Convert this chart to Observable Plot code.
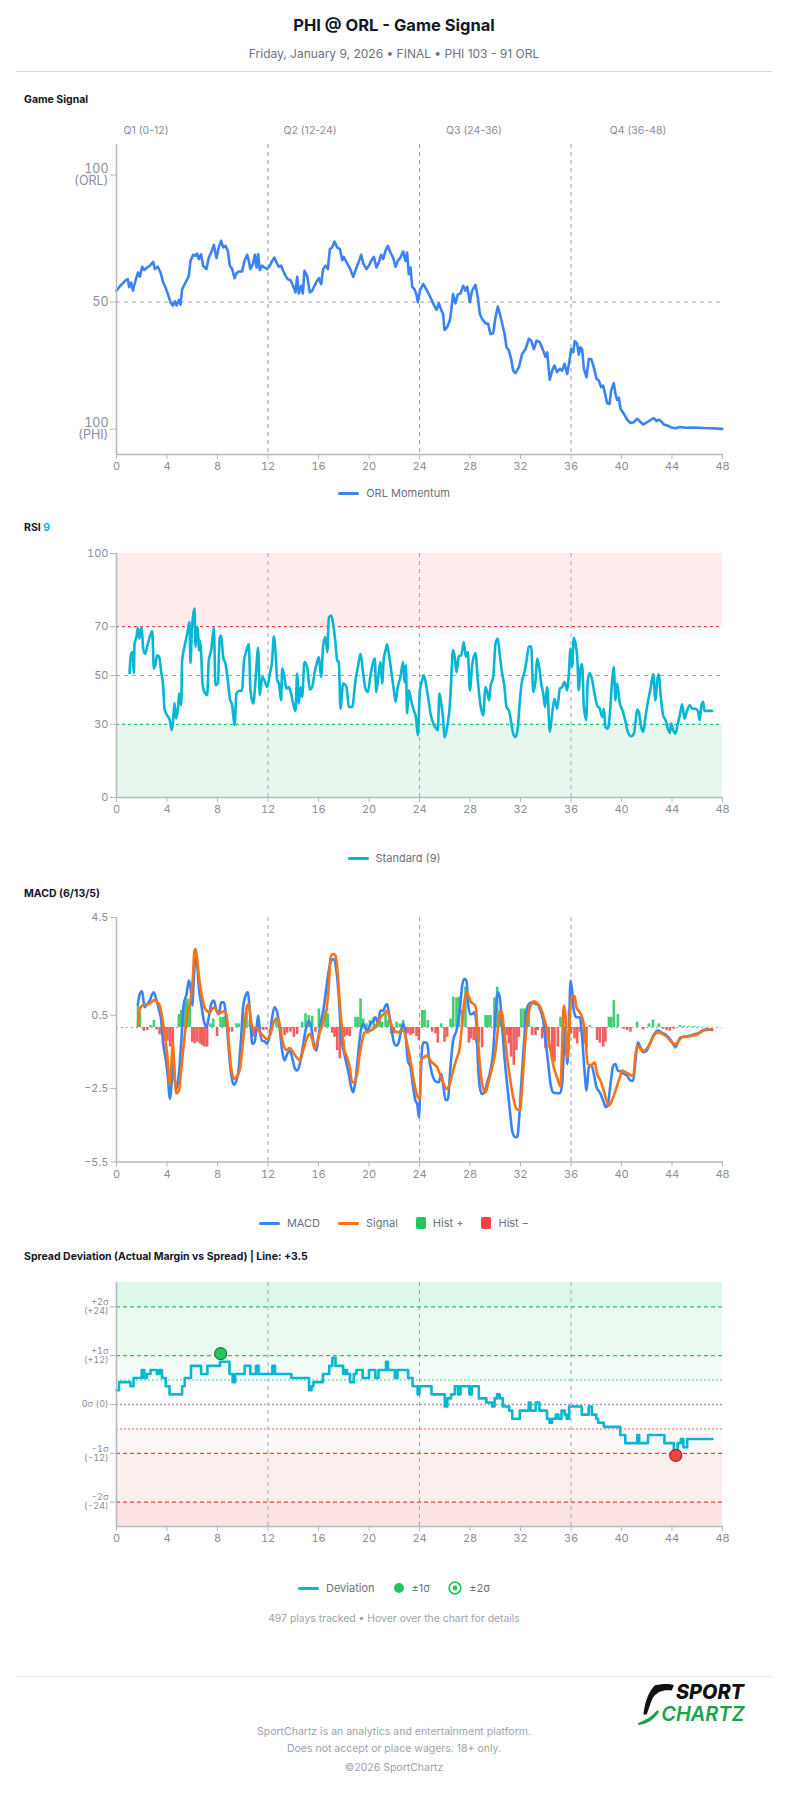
<!DOCTYPE html>
<html>
<head>
<meta charset="utf-8">
<script src="https://cdn.jsdelivr.net/npm/d3@7"></script>
<script src="https://cdn.jsdelivr.net/npm/@observablehq/plot@0.6"></script>
<style>
  html, body { margin: 0; padding: 0; background: #fff; }
  #page { position: relative; width: 788px; height: 1808px; overflow: hidden;
          font-family: Inter, "Noto Sans", "DejaVu Sans", sans-serif; }
  .t { position: absolute; white-space: nowrap; }
  .legend { position: absolute; left: 0; width: 788px; display: flex; justify-content: center;
            align-items: center; gap: 18px; font-size: 11px; color: #6b7280; }
  .legend .item { display: flex; align-items: center; gap: 7px; }
  .sw-line { width: 21px; height: 3px; border-radius: 2px; }
  .sw-box { width: 10px; height: 12px; border-radius: 2px; }
  .rule { position: absolute; height: 1px; }
</style>
</head>
<body>
<div id="page"></div>
<script>
// ---------- data ----------
const minuteTicks = [0, 4, 8, 12, 16, 20, 24, 28, 32, 36, 40, 44, 48];
const quarterBreaks = [12, 24, 36];
const quarterLabels = ["Q1 (0-12)", "Q2 (12-24)", "Q3 (24-36)", "Q4 (36-48)"];

// ORL momentum, [game minute, value] (100 = ORL, 0 = PHI)
const orlMomentum = [[0,54.5],[0.3,56.4],[0.7,58.4],[0.9,59],[1.0,55.8],[1.16,57.7],[1.3,54.5],[1.5,58.4],[1.7,61.6],[1.85,60],[2.03,63.9],[2.2,62.6],[2.43,63.6],[2.64,64.3],[2.9,65.8],[3.04,63],[3.27,63.9],[3.49,61.6],[3.7,57.7],[3.88,55.8],[4.07,53.1],[4.28,49.9],[4.46,48.6],[4.62,50.3],[4.75,48.7],[4.94,50.8],[5.07,49],[5.2,55.1],[5.47,57.7],[5.73,60.3],[5.86,66.2],[6.07,68.6],[6.26,68.2],[6.39,69.1],[6.52,66.9],[6.7,68.8],[6.86,64.3],[7.13,63],[7.31,67.5],[7.5,69.5],[7.71,72.5],[7.92,67.3],[8.1,71.5],[8.29,74.1],[8.45,71.5],[8.63,72.1],[8.82,70.2],[8.98,64.3],[9.16,63],[9.35,59.4],[9.5,61.3],[9.7,62],[9.95,62],[10.14,66.2],[10.35,68.6],[10.48,66.2],[10.6,63],[10.8,64.9],[10.96,68.6],[11.09,63.6],[11.22,68.8],[11.35,62.6],[11.54,64.3],[11.72,63.6],[11.93,63],[12.15,64.3],[12.33,66.2],[12.51,67.5],[12.67,65.6],[12.86,63.9],[13.04,64.3],[13.2,62.3],[13.39,60.3],[13.57,59],[13.78,58.6],[13.99,56.4],[14.18,53.8],[14.31,59.9],[14.44,53.4],[14.63,56.4],[14.76,53.4],[14.89,62.3],[15.1,60.3],[15.31,53.8],[15.5,54.5],[15.68,56.4],[15.89,58.4],[16.03,59.4],[16.21,57.1],[16.37,63],[16.55,64.3],[16.74,63],[16.9,70.8],[17.08,71.5],[17.27,73.8],[17.48,71.5],[17.7,70.8],[17.88,66.5],[18.0,67.8],[18.22,65.6],[18.48,63.4],[18.75,59.9],[19.01,63.6],[19.2,66],[19.38,68.6],[19.54,65.2],[19.8,63],[19.99,64.3],[20.17,66.2],[20.38,67.8],[20.59,63.6],[20.78,65.6],[20.96,68.6],[21.12,66.9],[21.31,70.2],[21.49,72.1],[21.7,69.5],[21.91,67.5],[22.1,63.9],[22.28,66.2],[22.49,67.5],[22.7,69.9],[22.89,66.2],[23.02,69.5],[23.15,61],[23.29,63.6],[23.42,56],[23.6,55.1],[23.76,52.9],[23.87,49.9],[24.03,54.5],[24.29,57.1],[24.6,54.5],[24.87,51.8],[25.13,49],[25.35,46.9],[25.53,49.5],[25.72,46.9],[25.87,45.3],[25.98,39],[26.19,40.1],[26.4,42.7],[26.51,46.6],[26.66,53.1],[26.85,49.5],[27.03,52.9],[27.25,53.4],[27.46,56.4],[27.64,54.5],[27.78,56],[27.99,49.9],[28.17,54.5],[28.43,56.8],[28.62,51.8],[28.78,45.3],[28.96,43.3],[29.23,41.6],[29.44,41.4],[29.62,37.4],[29.84,37.7],[30.02,44],[30.21,48.2],[30.37,45.3],[30.55,41.4],[30.73,37.7],[30.89,32.2],[31.08,30.9],[31.26,27.6],[31.42,23],[31.6,22],[31.87,24.3],[32.13,29.6],[32.4,31.5],[32.66,35.5],[32.85,34.8],[33.06,31.5],[33.27,34.8],[33.53,34.2],[33.8,30.9],[33.98,28.5],[34.11,30.2],[34.32,19.4],[34.51,23],[34.69,25],[34.9,22.4],[35.12,23.7],[35.3,23],[35.49,25.7],[35.7,21.7],[35.88,27],[36.01,31.5],[36.17,30.2],[36.3,34.6],[36.49,33.5],[36.62,29.3],[36.75,32.2],[36.88,31.5],[37.02,23.7],[37.23,20.4],[37.41,27.6],[37.6,27.6],[37.81,24.3],[38.02,19.8],[38.2,19.1],[38.39,16.5],[38.55,17.1],[38.73,13.2],[38.86,10.2],[39.05,9.9],[39.18,15.2],[39.39,18.1],[39.52,13.9],[39.65,11.5],[39.79,12.3],[39.92,8],[40.19,6],[40.45,3.7],[40.71,2.4],[40.98,2.7],[41.24,4.1],[41.45,3.1],[41.72,1.8],[42.03,2.7],[42.35,3.7],[42.56,4.3],[42.77,3.1],[42.96,3.7],[43.14,3.1],[43.35,1.8],[43.67,1.3],[44.01,0.5],[44.27,0.3],[44.67,0.8],[45.07,0.5],[45.73,0.6],[46.52,0.4],[47.31,0.3],[47.97,0.1]];

// RSI (9), [game minute, value]
const rsi9 = [[1.03,51],[1.16,58.9],[1.27,59.6],[1.37,51],[1.43,63],[1.58,65.8],[1.69,69.6],[1.8,65.1],[1.9,68.5],[2.0,69.6],[2.11,61],[2.27,58.9],[2.43,61.9],[2.64,65.8],[2.83,68.2],[2.96,52.8],[3.09,54.6],[3.22,58.3],[3.38,57.6],[3.54,51.4],[3.7,45.3],[3.8,36.4],[4.01,33.7],[4.22,31.7],[4.38,27.6],[4.49,31.7],[4.59,38.7],[4.73,32.3],[4.88,37.1],[4.96,42.6],[5.12,37.8],[5.2,56.2],[5.39,61.9],[5.6,67.1],[5.78,71.9],[5.86,55.1],[5.97,68.5],[6.07,74.6],[6.18,77.4],[6.26,61.7],[6.34,69.8],[6.44,69.8],[6.52,60.3],[6.6,64.4],[6.71,58.9],[6.81,46.7],[6.97,43.2],[7.18,41.9],[7.31,56.2],[7.5,60.3],[7.71,69.6],[7.84,46],[8.03,46.7],[8.18,65.8],[8.29,66.4],[8.45,57.6],[8.63,54.8],[8.82,48],[8.98,40.5],[9.16,37.8],[9.35,29.6],[9.5,42.6],[9.69,43.7],[9.95,43.9],[10.09,55.5],[10.3,60.3],[10.48,62.8],[10.61,43.9],[10.83,38.5],[11.01,48],[11.22,61.4],[11.35,41.9],[11.54,49.4],[11.72,48],[11.93,45.3],[12.15,50.8],[12.33,56.2],[12.46,66],[12.59,60.3],[12.73,48],[12.86,46.7],[13.04,39.8],[13.12,52.8],[13.25,50.8],[13.46,44.6],[13.65,45.3],[13.83,42.6],[13.99,38.5],[14.18,35.5],[14.31,50.8],[14.44,38.5],[14.57,45.3],[14.7,41.2],[14.89,55.5],[15.1,53.5],[15.31,44.2],[15.5,45.3],[15.68,50.8],[15.89,55.5],[16.03,57.6],[16.21,49.4],[16.37,62.3],[16.55,65.8],[16.69,59.6],[16.82,73.7],[17.01,74.6],[17.16,71.2],[17.35,63],[17.48,56.2],[17.61,55.5],[17.74,36.4],[17.95,46.7],[18.22,45.3],[18.4,37.1],[18.67,37.1],[18.93,48],[19.12,53.5],[19.33,58.9],[19.54,50.8],[19.72,44.6],[19.91,43.2],[20.12,50.1],[20.33,55.5],[20.46,56.9],[20.57,43.2],[20.78,51.4],[20.91,55.5],[21.04,46.7],[21.17,56.9],[21.31,60.3],[21.43,62.8],[21.57,58.9],[21.76,52.1],[21.97,43.9],[22.1,39.2],[22.28,45.3],[22.49,49.4],[22.7,55.5],[22.81,47.3],[22.92,54.2],[23.02,34.4],[23.15,43.9],[23.34,39.8],[23.55,35.7],[23.71,33],[23.87,25.5],[24.03,43.9],[24.21,48],[24.34,50.1],[24.55,45.3],[24.74,39.2],[24.87,34.4],[25.0,31.7],[25.27,28.6],[25.45,27.6],[25.58,42.6],[25.72,38.5],[25.87,32.3],[25.98,24.6],[26.19,28.9],[26.4,37.8],[26.51,48],[26.64,60.3],[26.77,58.3],[26.93,51.4],[27.11,57.8],[27.3,58.3],[27.51,63.7],[27.67,57.6],[27.83,59.6],[27.99,43.9],[28.17,54.2],[28.43,59.2],[28.62,48],[28.83,37.8],[29.04,33.7],[29.23,45.3],[29.36,43.2],[29.52,39.8],[29.62,45.3],[29.84,49.4],[30.02,63],[30.2,65.1],[30.36,58.3],[30.55,50.8],[30.73,45.3],[30.89,37.1],[31.08,35.7],[31.26,31],[31.42,26.2],[31.6,24.8],[31.79,28.9],[31.95,39.8],[32.13,48],[32.32,51.4],[32.48,56.2],[32.66,61.9],[32.85,61.9],[33.01,43.2],[33.19,48],[33.32,56.9],[33.48,53.5],[33.64,46.7],[33.8,42.6],[33.95,37.1],[34.11,45.3],[34.32,26.9],[34.51,34.4],[34.69,40.5],[34.9,36.4],[35.12,44.6],[35.3,45.3],[35.49,47.3],[35.7,43.9],[35.83,50.8],[35.96,61],[36.09,53.5],[36.22,65.5],[36.36,63],[36.49,57.6],[36.62,43.9],[36.75,52.8],[36.88,54.6],[37.02,37.1],[37.2,31.7],[37.33,48],[37.49,51],[37.68,48],[37.86,42.6],[38.07,37.8],[38.28,36.4],[38.47,33],[38.6,36.4],[38.73,28.9],[38.92,28.2],[39.08,34.4],[39.26,48],[39.39,53.5],[39.52,39.8],[39.65,46.7],[39.87,38.5],[40.08,35.7],[40.32,31],[40.5,26.9],[40.77,25.1],[40.98,26.2],[41.11,31],[41.24,36],[41.37,35.1],[41.56,28.9],[41.72,26.9],[41.9,33],[42.09,39.2],[42.3,44.6],[42.51,50.5],[42.69,39.8],[42.83,48],[42.96,50.5],[43.09,42.6],[43.3,33.7],[43.49,31.7],[43.67,28.2],[43.83,26.5],[43.93,30.3],[44.09,27.6],[44.27,26.2],[44.46,30.3],[44.62,33.7],[44.8,38.2],[44.99,32.3],[45.2,35.7],[45.41,37.8],[45.6,36.4],[45.86,36.4],[46.05,35.5],[46.2,31.7],[46.33,37.8],[46.47,39.2],[46.57,35.5],[46.84,35.5],[47.18,35.5]];
const rsiBands = [30, 50, 70];

// MACD (6/13/5), [game minute, value]
const macdLine = [[1.69,0.94],[1.85,1.37],[2.03,1.48],[2.22,0.83],[2.43,0.96],[2.64,1.1],[2.83,1.37],[2.96,1.44],[3.17,1.1],[3.35,0.76],[3.54,0.28],[3.7,-0.67],[3.88,-1.22],[4.07,-2.04],[4.22,-2.92],[4.36,-2.31],[4.49,-1.22],[4.62,-2.17],[4.75,-2.51],[4.94,-1.9],[5.12,-0.67],[5.33,0.96],[5.55,1.37],[5.73,1.92],[5.86,1.65],[6.0,0.9],[6.13,2.05],[6.26,2.87],[6.39,2.6],[6.52,1.65],[6.71,0.96],[6.92,0.28],[7.13,0.01],[7.31,0.42],[7.5,0.96],[7.71,1.1],[7.92,0.69],[8.1,0.55],[8.29,1.03],[8.5,1.03],[8.71,0.28],[8.9,-0.95],[9.08,-1.9],[9.29,-2.34],[9.5,-2.17],[9.69,-1.63],[9.87,-0.4],[10.03,0.83],[10.22,1.3],[10.4,1.44],[10.56,0.69],[10.75,-0.67],[10.93,-0.6],[11.09,-0.05],[11.22,0.49],[11.35,-0.12],[11.54,-0.54],[11.72,-0.56],[11.93,-0.67],[12.15,-0.26],[12.33,0.42],[12.51,0.83],[12.73,0.62],[12.94,-0.12],[13.12,-0.95],[13.31,-1.35],[13.52,-1.08],[13.73,-0.95],[13.91,-1.22],[14.1,-1.63],[14.31,-1.76],[14.52,-1.49],[14.71,-0.95],[14.97,-0.12],[15.23,0.28],[15.42,0.01],[15.63,-0.67],[15.84,-0.95],[16.03,-0.26],[16.21,0.28],[16.42,0.83],[16.63,1.65],[16.82,2.33],[17.0,2.74],[17.21,2.8],[17.42,2.33],[17.61,1.24],[17.8,-0.4],[18.0,-0.95],[18.22,-1.49],[18.4,-1.9],[18.59,-2.45],[18.75,-2.65],[18.93,-2.17],[19.12,-1.22],[19.33,-0.2],[19.54,0.15],[19.72,-0.05],[19.91,-0.1],[20.12,0.15],[20.33,0.28],[20.51,0.42],[20.7,0.21],[20.91,0.69],[21.12,0.69],[21.31,0.9],[21.43,0.96],[21.59,0.55],[21.76,0.01],[21.97,-0.6],[22.18,-0.74],[22.36,-0.6],[22.54,-0.12],[22.7,0.15],[22.89,-0.26],[23.08,-1.35],[23.29,-1.63],[23.5,-2.45],[23.68,-2.99],[23.82,-3.13],[23.95,-3.67],[24.08,-2.31],[24.21,-0.81],[24.34,-0.6],[24.61,-0.65],[24.74,-1.22],[25.0,-1.9],[25.27,-2.2],[25.53,-2.24],[25.72,-1.9],[25.87,-2.31],[26.06,-2.96],[26.24,-2.96],[26.45,-1.63],[26.66,-0.54],[26.93,-0.12],[27.19,0.69],[27.38,1.71],[27.56,1.99],[27.72,1.92],[27.83,1.1],[27.99,0.55],[28.17,0.55],[28.35,0.62],[28.51,0.15],[28.62,-1.35],[28.78,-2.45],[28.96,-2.72],[29.15,-2.65],[29.36,-2.24],[29.62,-1.76],[29.84,-0.95],[30.02,0.55],[30.2,1.44],[30.36,1.24],[30.55,0.01],[30.73,-1.22],[30.94,-2.31],[31.16,-3.4],[31.34,-4.22],[31.53,-4.46],[31.74,-4.49],[31.9,-3.67],[32.06,-2.31],[32.27,-0.67],[32.48,0.69],[32.66,0.96],[32.93,1.03],[33.19,0.96],[33.37,0.94],[33.58,0.69],[33.8,0.28],[33.98,-0.54],[34.17,-1.35],[34.38,-2.31],[34.59,-2.65],[34.85,-2.69],[35.12,-2.69],[35.3,-2.31],[35.43,-0.95],[35.57,0.01],[35.7,-1.49],[35.83,-0.4],[35.96,1.92],[36.09,1.51],[36.22,0.69],[36.43,0.42],[36.7,0.42],[36.88,-0.4],[37.07,-1.76],[37.23,-2.58],[37.41,-1.63],[37.6,-1.52],[37.81,-1.9],[38.02,-2.45],[38.28,-2.65],[38.55,-2.99],[38.76,-3.26],[38.92,-3.13],[39.13,-2.31],[39.34,-1.56],[39.52,-1.49],[39.71,-1.76],[39.92,-1.79],[40.19,-1.9],[40.45,-1.97],[40.71,-2.17],[40.93,-2.17],[41.11,-1.35],[41.29,-0.6],[41.5,-0.81],[41.72,-1.01],[41.98,-0.95],[42.24,-0.67],[42.56,-0.29],[42.88,-0.12],[43.14,-0.2],[43.49,-0.29],[43.83,-0.47],[44.09,-0.67],[44.27,-0.81],[44.46,-0.6],[44.67,-0.4],[45.07,-0.37],[45.46,-0.33],[45.86,-0.26],[46.26,-0.2],[46.57,-0.08],[46.92,-0.07],[47.18,-0.1]];
const signalLine = [[1.69,0.08],[1.85,0.76],[2.03,0.9],[2.3,0.94],[2.56,0.96],[2.83,1.07],[3.01,1.13],[3.22,1.03],[3.43,0.9],[3.62,0.42],[3.8,-0.26],[4.01,-1.08],[4.2,-2.31],[4.33,-1.63],[4.46,-0.67],[4.59,-1.76],[4.73,-2.69],[4.94,-2.58],[5.12,-1.76],[5.28,-0.95],[5.47,0.01],[5.65,0.69],[5.86,1.1],[6.05,2.05],[6.18,3.17],[6.28,3.21],[6.44,2.53],[6.6,1.78],[6.79,1.24],[6.97,0.83],[7.18,0.66],[7.39,0.62],[7.58,0.76],[7.76,0.83],[7.92,0.69],[8.1,0.55],[8.29,0.62],[8.5,0.66],[8.71,0.55],[8.9,-0.67],[9.08,-1.63],[9.29,-2.1],[9.5,-2.04],[9.77,-1.7],[9.95,-0.95],[10.14,0.01],[10.35,0.9],[10.48,0.96],[10.61,0.42],[10.83,-0.05],[11.09,0.01],[11.35,-0.2],[11.62,-0.33],[11.88,-0.47],[12.15,-0.33],[12.41,0.15],[12.67,0.39],[12.86,0.28],[13.04,-0.26],[13.25,-0.74],[13.46,-0.92],[13.73,-0.84],[13.99,-1.01],[14.26,-1.22],[14.52,-1.35],[14.78,-0.95],[15.05,-0.47],[15.31,-0.26],[15.5,-0.47],[15.68,-0.88],[15.89,-0.6],[16.11,-0.2],[16.37,0.28],[16.63,0.69],[16.82,1.78],[16.95,2.87],[17.16,3.01],[17.35,2.94],[17.53,2.19],[17.69,0.96],[17.88,-0.12],[18.06,-0.95],[18.27,-1.22],[18.48,-1.63],[18.67,-2.24],[18.85,-2.24],[19.06,-1.9],[19.27,-1.08],[19.46,-0.54],[19.64,-0.2],[19.85,-0.2],[20.12,-0.12],[20.38,-0.05],[20.65,0.15],[20.91,0.42],[21.17,0.55],[21.43,0.69],[21.65,0.35],[21.83,0.01],[22.02,-0.12],[22.28,-0.2],[22.54,-0.12],[22.75,-0.15],[23.02,-0.67],[23.29,-1.35],[23.55,-2.17],[23.82,-2.79],[24.03,-2.92],[24.13,-1.35],[24.34,-1.22],[24.61,-1.15],[24.87,-1.35],[25.13,-1.49],[25.4,-1.63],[25.61,-1.9],[25.87,-2.24],[26.14,-2.51],[26.4,-2.31],[26.66,-1.76],[26.93,-1.29],[27.19,-0.81],[27.38,0.15],[27.56,1.1],[27.72,1.44],[27.91,1.26],[28.09,1.03],[28.3,0.96],[28.46,0.83],[28.62,-0.4],[28.78,-1.49],[28.96,-2.31],[29.23,-2.65],[29.49,-2.17],[29.76,-1.63],[30.02,-0.95],[30.2,-0.12],[30.42,0.69],[30.55,0.55],[30.73,-0.26],[30.94,-1.22],[31.16,-2.04],[31.42,-2.85],[31.68,-3.33],[31.95,-3.4],[32.13,-2.45],[32.32,-0.95],[32.53,0.28],[32.8,0.9],[33.06,1.07],[33.32,0.99],[33.58,0.83],[33.85,0.42],[34.11,-0.12],[34.38,-0.95],[34.64,-1.63],[34.9,-2.04],[35.17,-2.42],[35.3,-0.67],[35.43,0.9],[35.57,0.42],[35.7,-1.22],[35.83,-0.54],[35.96,0.96],[36.09,1.3],[36.28,1.3],[36.43,0.83],[36.7,0.62],[36.96,0.28],[37.15,-0.54],[37.33,-1.49],[37.6,-1.56],[37.86,-1.42],[38.07,-1.9],[38.33,-2.17],[38.6,-2.58],[38.81,-2.99],[38.99,-3.2],[39.18,-3.06],[39.39,-2.79],[39.65,-2.38],[39.87,-2.04],[40.05,-1.76],[40.32,-1.83],[40.58,-1.9],[40.93,-2.0],[41.11,-1.08],[41.29,-0.74],[41.5,-0.88],[41.77,-0.95],[42.03,-0.84],[42.3,-0.6],[42.56,-0.33],[42.88,-0.2],[43.22,-0.26],[43.57,-0.37],[43.88,-0.54],[44.14,-0.67],[44.36,-0.67],[44.54,-0.54],[44.8,-0.4],[45.2,-0.37],[45.6,-0.33],[45.99,-0.29],[46.39,-0.12],[46.79,-0.1],[47.18,-0.07]];
const macdHist = [[1.7,0.9],[1.85,0.6],[2.16,-0.15],[2.43,-0.12],[2.69,0.08],[2.96,0.29],[3.17,-0.1],[3.41,-0.29],[3.62,-0.33],[3.83,-0.4],[4.04,-0.56],[4.25,-0.8],[4.46,-0.94],[4.94,0.53],[5.12,0.7],[5.28,0.83],[5.47,1.04],[5.62,1.17],[5.81,0.9],[6.0,-0.6],[6.18,-0.67],[6.39,-0.6],[6.6,-0.67],[6.79,-0.74],[6.97,-0.8],[7.18,-0.8],[7.45,0.15],[7.66,0.35],[7.97,-0.37],[8.24,0.42],[8.45,0.42],[8.63,0.45],[8.9,-0.19],[9.16,-0.19],[9.5,0.15],[9.69,0.15],[10.03,0.59],[10.3,0.63],[10.56,0.29],[10.83,-0.4],[11.01,-0.26],[11.27,0.29],[11.62,-0.12],[11.88,-0.1],[12.67,0.35],[13.04,-0.26],[13.31,-0.33],[13.52,-0.23],[13.78,-0.19],[14.05,-0.4],[14.31,-0.29],[14.71,0.22],[14.97,0.56],[15.23,0.49],[15.5,0.45],[15.76,-0.19],[16.03,0.76],[16.29,0.49],[16.55,0.7],[16.74,0.56],[17.08,-0.23],[17.27,-0.4],[17.48,-0.94],[17.69,-1.28],[17.87,-0.4],[18.06,-0.4],[18.27,-0.33],[18.48,-0.37],[18.93,0.42],[19.12,0.42],[19.33,1.17],[19.54,0.35],[19.8,0.15],[20.07,0.29],[20.38,0.42],[20.65,0.22],[20.86,0.29],[21.04,0.22],[21.31,0.63],[21.49,0.29],[21.76,-0.26],[21.97,-0.26],[22.18,0.22],[22.44,0.15],[22.71,0.29],[22.89,-0.23],[23.08,-0.26],[23.29,-0.33],[23.5,-0.26],[23.76,-0.37],[23.95,-0.53],[24.21,0.7],[24.4,0.7],[24.66,0.29],[25.0,-0.19],[25.27,-0.26],[25.45,-0.64],[25.72,0.15],[25.98,-0.6],[26.19,-0.4],[26.46,0.35],[26.67,1.24],[26.93,1.21],[27.12,1.24],[27.38,0.7],[27.64,1.65],[27.91,-0.64],[28.09,-0.46],[28.3,-0.53],[28.51,-0.67],[28.7,-0.64],[28.96,-0.83],[29.23,0.49],[29.41,0.49],[29.62,0.49],[29.94,1.21],[30.15,1.65],[30.36,0.7],[30.63,-0.12],[30.89,-0.33],[31.08,-0.67],[31.26,-1.21],[31.47,-1.55],[31.68,-0.94],[31.87,-0.4],[32.05,0.76],[32.26,0.76],[32.48,0.76],[32.66,0.83],[32.92,-0.33],[33.19,-0.33],[33.37,-0.12],[33.72,-0.46],[33.98,-0.87],[34.24,-0.83],[34.51,-1.21],[34.69,-1.42],[34.96,-0.8],[35.17,0.42],[35.38,0.35],[35.56,-1.08],[35.83,0.7],[36.01,-0.26],[36.28,-0.46],[36.49,-0.67],[36.7,-0.19],[37.02,-0.67],[37.23,-0.83],[37.49,0.08],[38.07,-0.53],[38.28,-0.64],[38.55,-0.8],[38.73,-0.6],[39.0,0.42],[39.18,0.42],[39.39,1.1],[39.71,0.53],[40.18,-0.07],[40.45,-0.12],[40.71,-0.19],[41.24,0.22],[41.72,-0.1],[42.17,0.15],[42.49,0.31],[42.96,0.15],[43.3,-0.07],[43.57,-0.12],[43.83,-0.15],[44.14,-0.07],[44.62,0.08],[44.93,0.05],[45.33,0.04],[45.73,0.04],[46.13,0.03],[46.52,0.02],[46.92,0.02]];
const macdTicks = [4.5, 0.5, -2.5, -5.5];

// Spread deviation (actual margin vs +3.5 line), steps of [game minute, points]
const deviation = [[0,3.5],[0.2,5.5],[1.1,4.5],[1.35,6.5],[2.0,8.5],[2.2,6.5],[2.4,7.5],[2.7,8.5],[3.2,7.5],[3.4,8.5],[3.6,6.5],[3.9,4.5],[4.2,2.5],[5.2,4.5],[5.4,6.5],[5.9,9.5],[6.7,7.5],[7.2,9.5],[8.2,10.5],[8.95,7.5],[9.2,5.5],[9.4,7.5],[10.15,9.5],[10.6,7.5],[11.05,9.5],[11.25,7.5],[12.35,9.5],[12.55,7.5],[13.85,6.5],[15.25,3.5],[15.45,4.5],[15.6,5.5],[16.35,7.5],[16.85,9.5],[17.1,11.5],[17.35,9.5],[17.95,7.5],[18.1,8.5],[18.25,7.5],[18.5,5.5],[18.8,7.5],[19.0,8.5],[19.5,6.5],[20.0,8.5],[20.5,6.5],[20.75,8.5],[21.35,10.5],[21.5,8.5],[22.05,6.5],[22.25,8.5],[23.1,6.5],[23.45,4.5],[23.85,2.5],[24.0,4.5],[24.95,2.5],[26.0,-0.5],[26.2,1.5],[26.5,2.5],[26.8,4.5],[27.05,2.5],[27.25,4.5],[27.95,2.5],[28.15,4.5],[28.7,1.5],[29.3,0.5],[29.75,-0.5],[29.95,1.5],[30.15,2.5],[30.35,1.5],[30.6,-0.5],[31.1,-1.5],[31.35,-3.5],[31.95,-1.5],[32.65,0.5],[32.8,-1.5],[33.2,0.5],[33.5,-1.5],[34.1,-3.5],[34.3,-4.5],[34.5,-3.5],[34.8,-2.5],[35.0,-3.5],[35.25,-1.5],[35.5,-2.5],[35.65,-3.5],[35.85,-0.5],[36.85,-2.5],[37.4,-0.5],[37.65,-2.5],[38.0,-3.5],[38.15,-4.5],[38.6,-5.5],[39.9,-7.5],[40.3,-9.5],[41.25,-7.5],[41.4,-9.5],[42.1,-7.5],[43.4,-9.5],[44.15,-11.5],[44.45,-9.5],[44.7,-8.5],[44.9,-10.5],[45.2,-8.5],[47.2,-8.5]];
const sigmaHits = [[8.25, 12.5, "+"], [44.3, -12.5, "-"]];
const sigmaTicks = [24, 12, 0, -12, -24];
const sigmaTickText = {"24": "+2σ\n(+24)", "12": "+1σ\n(+12)", "0": "0σ (0)", "-12": "-1σ\n(-12)", "-24": "-2σ\n(-24)"};

// ---------- page helpers ----------
const FONT = 'Inter, "Noto Sans", "DejaVu Sans", sans-serif';
const page = document.getElementById("page");
const AXIS = "#b4b8c0", TICK = "#8a8f99", GRID = "#9ca3af";
const BLUE = "#3b82f6", CYAN = "#06b6d4", ORANGE = "#f97316", GREEN = "#22c55e", RED = "#ef4444";

function text(html, y, o = {}) {
  const size = o.size || 10;
  const d = document.createElement("div");
  d.className = "t";
  d.innerHTML = html;
  const lh = Math.round(size * 1.4);
  Object.assign(d.style, {
    top: (y - lh / 2) + "px", fontSize: size + "px", lineHeight: lh + "px",
    fontWeight: o.weight || 400, color: o.color || "#111827"
  });
  if (o.center) { d.style.left = "0px"; d.style.width = "788px"; d.style.textAlign = "center"; }
  else if (o.cx != null) { d.style.left = (o.cx - 100) + "px"; d.style.width = "200px"; d.style.textAlign = "center"; }
  else d.style.left = (o.x || 0) + "px";
  page.appendChild(d);
  return d;
}
function hrule(y, x1, x2, color) {
  const r = document.createElement("div");
  r.className = "rule";
  Object.assign(r.style, {top: y + "px", left: x1 + "px", width: (x2 - x1) + "px", background: color});
  page.appendChild(r);
}
function legend(y, items) {
  const d = document.createElement("div");
  d.className = "legend";
  d.style.top = (y - 8) + "px";
  d.style.height = "16px";
  d.innerHTML = items.map(it => `<div class="item">${it.sw}<span>${it.label}</span></div>`).join("");
  page.appendChild(d);
}
const lineSw = c => `<div class="sw-line" style="background:${c}"></div>`;
const boxSw = c => `<div class="sw-box" style="background:${c}"></div>`;

// One chart panel; top/bottom give the plot frame in page pixels.
function chart(top, bottom, o) {
  const mt = 14, mb = 32;
  const svg = Plot.plot({
    width: 788, height: bottom - top + mt + mb,
    marginLeft: 116, marginRight: 66, marginTop: mt, marginBottom: mb,
    style: {fontFamily: FONT, background: "transparent", overflow: "visible"},
    x: {domain: [0, 48]},
    y: {domain: o.yDomain},
    marks: [
      ...o.marks,
      Plot.ruleX([0], {stroke: AXIS, strokeWidth: 1.6}),
      Plot.ruleY([o.yDomain[0]], {stroke: AXIS, strokeWidth: 1.6}),
      Plot.axisX({ticks: minuteTicks, tickSize: 5, tickPadding: 3, fontSize: 11, color: TICK, stroke: AXIS, label: null}),
      Plot.axisY({ticks: o.yTicks, tickFormat: o.yFormat, tickSize: 6, tickPadding: 2,
                  fontSize: o.yFontSize || 11, color: TICK, stroke: AXIS, label: null})
    ]
  });
  Object.assign(svg.style, {position: "absolute", left: "0px", top: (top - mt) + "px"});
  page.appendChild(svg);
}
const quarterRules = () => Plot.ruleX(quarterBreaks, {stroke: GRID, strokeWidth: 1, strokeDasharray: "4,4"});
const px = d => d[0], py = d => d[1];

// ---------- header ----------
text("PHI @ ORL - Game Signal", 25, {center: true, size: 16.5, weight: 700});
text("Friday, January 9, 2026 • FINAL • PHI 103 - 91 ORL", 53, {center: true, size: 12, color: "#6b7280"});
hrule(71, 16, 772, "#d4d6dc");

// ---------- Game Signal ----------
text("Game Signal", 99, {x: 24, size: 10.5, weight: 700});
quarterLabels.forEach((q, i) => text(q, 130, {cx: 146 + i * 164, size: 10.5, color: "#8a8f99"}));
chart(143.5, 453.5, {
  yDomain: [-10, 112], yTicks: [100, 50, 0], yFontSize: 12.5,
  yFormat: v => v === 100 ? "100\n(ORL)" : v === 0 ? "100\n(PHI)" : String(v),
  marks: [
    quarterRules(),
    Plot.ruleY([50], {stroke: GRID, strokeWidth: 1, strokeDasharray: "4,4"}),
    Plot.line(orlMomentum, {x: px, y: py, stroke: BLUE, strokeWidth: 2.6, strokeLinejoin: "round"})
  ]
});
legend(493, [{sw: lineSw(BLUE), label: "ORL Momentum"}]);

// ---------- RSI ----------
text(`RSI <span style="color:${CYAN}">9</span>`, 527, {x: 24, size: 10.5, weight: 700});
chart(553, 797, {
  yDomain: [0, 100], yTicks: [100, 70, 50, 30, 0],
  marks: [
    Plot.rectY([[rsiBands[2], 100]], {x1: 0, x2: 48, y1: d => d[0], y2: d => d[1], fill: "#fdeceb"}),
    Plot.rectY([[0, rsiBands[0]]], {x1: 0, x2: 48, y1: d => d[0], y2: d => d[1], fill: "#e8f7ee"}),
    quarterRules(),
    Plot.ruleY([rsiBands[1]], {stroke: GRID, strokeWidth: 1, strokeDasharray: "4,4"}),
    Plot.ruleY([rsiBands[2]], {stroke: RED, strokeWidth: 1.2, strokeDasharray: "3,3"}),
    Plot.ruleY([rsiBands[0]], {stroke: GREEN, strokeWidth: 1.2, strokeDasharray: "3,3"}),
    Plot.line(rsi9, {x: px, y: py, stroke: CYAN, strokeWidth: 2.6, curve: "monotone-x"})
  ]
});
legend(858, [{sw: lineSw(CYAN), label: "Standard (9)"}]);

// ---------- MACD ----------
text("MACD (6/13/5)", 893, {x: 24, size: 10.5, weight: 700});
chart(917, 1161.5, {
  yDomain: [-5.5, 4.5], yTicks: macdTicks, yFormat: v => String(v).replace("-", "−"),
  marks: [
    quarterRules(),
    Plot.ruleY([0], {stroke: "#a3a8b1", strokeWidth: 1, strokeDasharray: "2,3"}),
    Plot.ruleX(macdHist.filter(d => d[1] >= 0), {x: px, y1: 0, y2: py, stroke: GREEN, strokeWidth: 2.6, strokeOpacity: 0.85}),
    Plot.ruleX(macdHist.filter(d => d[1] < 0), {x: px, y1: 0, y2: py, stroke: RED, strokeWidth: 2.6, strokeOpacity: 0.85}),
    Plot.line(macdLine, {x: px, y: py, stroke: BLUE, strokeWidth: 2.6, curve: "monotone-x"}),
    Plot.line(signalLine, {x: px, y: py, stroke: ORANGE, strokeWidth: 2.6, curve: "monotone-x"})
  ]
});
legend(1223, [
  {sw: lineSw(BLUE), label: "MACD"}, {sw: lineSw(ORANGE), label: "Signal"},
  {sw: boxSw(GREEN), label: "Hist +"}, {sw: boxSw(RED), label: "Hist −"}
]);

// ---------- Spread Deviation ----------
text("Spread Deviation (Actual Margin vs Spread) | Line: +3.5", 1256, {x: 24, size: 10.5, weight: 700});
const band = (lo, hi, c, op) => Plot.rectY([[lo, hi]], {x1: 0, x2: 48, y1: d => d[0], y2: d => d[1], fill: c, fillOpacity: op});
chart(1282, 1526, {
  yDomain: [-30, 30], yTicks: sigmaTicks, yFontSize: 9, yFormat: v => sigmaTickText[v],
  marks: [
    band(6, 30, GREEN, 0.05), band(12, 30, GREEN, 0.04), band(24, 30, GREEN, 0.06),
    band(-30, -6, RED, 0.04), band(-30, -12, RED, 0.05), band(-30, -24, RED, 0.07),
    quarterRules(),
    Plot.ruleY([24, 12], {stroke: GREEN, strokeWidth: 1.2, strokeDasharray: "4,3"}),
    Plot.ruleY([6], {stroke: "#86e0a4", strokeWidth: 1.5, strokeDasharray: "2,2"}),
    Plot.ruleY([0], {stroke: "#9ca3af", strokeWidth: 1.5, strokeDasharray: "2,2"}),
    Plot.ruleY([-6], {stroke: "#f49a9a", strokeWidth: 1.5, strokeDasharray: "2,2"}),
    Plot.ruleY([-12, -24], {stroke: RED, strokeWidth: 1.2, strokeDasharray: "4,3"}),
    Plot.line(deviation, {x: px, y: py, stroke: CYAN, strokeWidth: 2.6, curve: "step-after"}),
    Plot.dot(sigmaHits.filter(d => d[2] === "+"), {x: px, y: py, r: 6, fill: GREEN, stroke: "#15803d", strokeWidth: 1.2}),
    Plot.dot(sigmaHits.filter(d => d[2] === "-"), {x: px, y: py, r: 6, fill: RED, stroke: "#b91c1c", strokeWidth: 1.2})
  ]
});
const dotSw = `<svg width="12" height="12"><circle cx="6" cy="6" r="5" fill="${GREEN}"/></svg>`;
const ringSw = `<svg width="14" height="14"><circle cx="7" cy="7" r="5.8" fill="none" stroke="${GREEN}" stroke-width="1.8"/><circle cx="7" cy="7" r="2.4" fill="${GREEN}"/></svg>`;
legend(1588, [{sw: lineSw(CYAN), label: "Deviation"}, {sw: dotSw, label: "±1σ"}, {sw: ringSw, label: "±2σ"}]);
text("497 plays tracked • Hover over the chart for details", 1618, {center: true, size: 10.4, color: "#9ca3af"});

// ---------- footer ----------
hrule(1676, 16, 772, "#e3e5e9");
const logo = document.createElement("div");
Object.assign(logo.style, {position: "absolute", left: "634px", top: "1680px"});
logo.innerHTML = `<svg width="130" height="46" viewBox="0 0 124 42">
  <path d="M20 4 C 30 2, 36 3, 38 4 L 36 9 C 28 8, 22 10, 18 16 C 15 22, 14 28, 12 32 L 9 32 C 10 24, 12 12, 20 4 Z" fill="#111"/>
  <path d="M4 40 C 10 38, 16 35, 22 28 L 24 29 C 19 37, 13 41, 4 42 Z" fill="#16a34a"/>
  <text x="40" y="17" font-family="Inter, sans-serif" font-style="italic" font-weight="800" font-size="19" fill="#111">SPORT</text>
  <text x="26" y="38" font-family="Inter, sans-serif" font-style="italic" font-weight="600" font-size="19" fill="#16a34a">CHARTZ</text>
</svg>`;
page.appendChild(logo);
text("SportChartz is an analytics and entertainment platform.", 1731, {center: true, size: 10.5, color: "#9ca3af"});
text("Does not accept or place wagers. 18+ only.", 1748, {center: true, size: 10.5, color: "#9ca3af"});
text("©2026 SportChartz", 1767, {center: true, size: 10.5, color: "#9ca3af"});
</script>
</body>
</html>
